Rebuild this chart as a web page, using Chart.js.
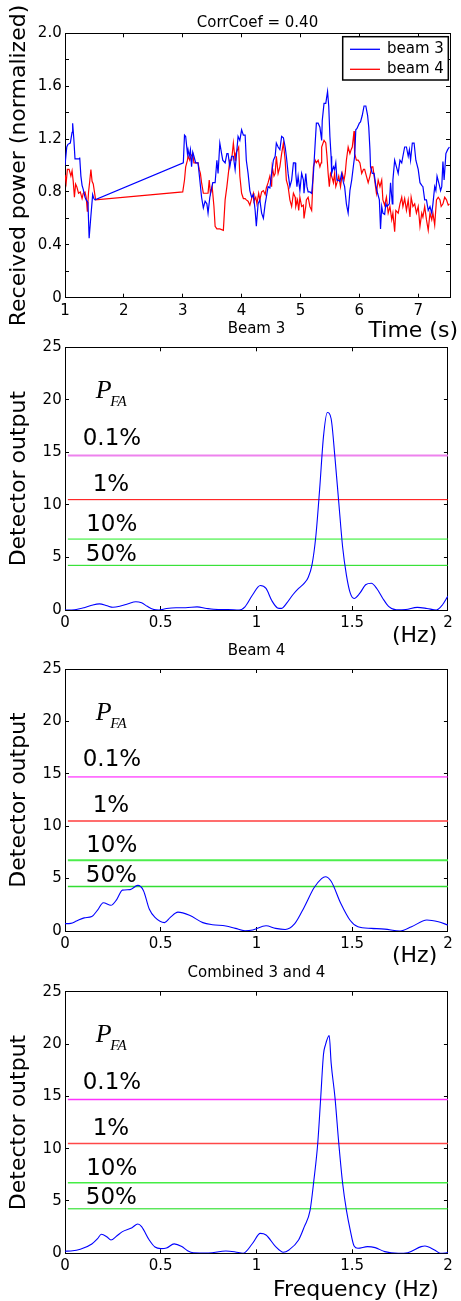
<!DOCTYPE html>
<html><head><meta charset="utf-8">
<script src="https://cdn.jsdelivr.net/npm/chart.js@4.4.0/dist/chart.umd.min.js"></script>
<style>
html,body{margin:0;padding:0;background:#fff;}
body{width:461px;height:1301px;position:relative;overflow:hidden;}
canvas{position:absolute;left:0;}
</style></head><body>
<canvas id="c1" width="461" height="340" style="top:0px;width:461px;height:340px"></canvas>
<canvas id="c2" width="461" height="326" style="top:320px;width:461px;height:326px"></canvas>
<canvas id="c3" width="461" height="324" style="top:642px;width:461px;height:324px"></canvas>
<canvas id="c4" width="461" height="337" style="top:964px;width:461px;height:337px"></canvas>
<script>
// ---------------- DATA ----------------
const beam3Time = [1.00,1.03,1.05,1.09,1.12,1.13,1.15,1.17,1.21,1.24,1.25,1.27,1.29,1.31,1.34,1.36,1.39,1.41,1.44,1.47,1.49,1.51,
3.01,3.03,3.05,3.08,3.09,3.11,3.13,3.15,3.17,3.19,3.22,3.26,3.29,3.32,3.35,3.38,3.41,3.43,3.46,3.51,
3.55,3.58,3.60,3.63,3.66,3.68,3.72,3.75,3.77,3.80,3.83,3.86,3.89,3.92,3.94,3.97,4.00,4.03,4.06,4.08,
4.11,4.14,4.17,4.20,4.23,4.25,4.28,4.31,4.34,4.37,4.40,4.42,4.45,4.48,4.51,4.54,4.57,4.59,4.62,4.65,
4.68,4.71,4.74,4.76,4.79,4.82,4.85,4.88,4.91,4.92,4.94,4.96,4.99,5.02,5.05,5.06,5.09,5.11,5.13,5.16,
5.19,5.22,5.25,5.27,5.30,5.33,5.36,5.37,5.40,5.43,5.46,5.48,5.50,5.52,5.53,5.56,5.58,5.60,5.62,5.64,
5.67,5.70,5.73,5.75,5.78,5.81,5.84,5.87,5.90,5.92,5.94,5.96,6.00,6.02,6.05,6.08,6.11,6.14,6.16,6.18,
6.19,6.22,6.25,6.28,6.31,6.34,6.36,6.38,6.40,6.43,6.45,6.47,6.51,6.53,6.56,6.57,6.60,6.63,6.66,6.69,
6.72,6.74,6.77,6.80,6.83,6.85,6.87,6.90,6.93,6.96,7.00,7.03,7.06,7.08,7.11,7.14,7.17,7.20,7.23,7.25,
7.28,7.30,7.32,7.36,7.38,7.40,7.42,7.44,7.47,7.50,7.53];
const beam3Power = [1.00,1.14,1.16,1.17,1.25,1.32,1.20,1.05,1.05,1.05,1.06,0.92,0.85,0.82,0.76,0.74,0.72,0.45,0.62,0.78,0.75,0.74,
1.02,1.23,1.22,1.09,1.12,1.07,1.12,0.99,1.10,1.07,1.02,1.02,0.89,0.76,0.68,0.73,0.71,0.64,0.76,0.87,
0.87,1.04,0.94,1.17,1.09,1.04,1.02,1.09,1.09,0.99,1.07,1.07,0.97,1.12,1.22,1.19,1.27,1.23,1.23,1.04,
0.94,0.81,0.76,0.78,0.66,0.54,0.71,0.74,0.64,0.60,0.71,0.76,0.84,0.83,0.94,1.04,1.07,1.17,1.14,1.12,
1.22,1.21,1.14,1.07,0.94,0.84,0.89,1.02,1.02,0.94,0.84,0.92,0.81,0.94,0.89,0.79,0.94,0.84,0.80,0.80,
0.79,0.94,1.17,1.32,1.32,1.29,1.19,1.34,1.47,1.47,1.56,1.45,1.22,1.07,0.94,0.99,0.97,1.02,0.89,0.89,
0.88,0.94,0.87,0.84,0.71,0.64,0.81,0.89,1.00,1.07,1.27,1.28,1.32,1.33,1.38,1.45,1.45,1.38,1.29,1.12,
0.99,0.94,0.94,0.85,0.79,0.74,0.52,0.69,0.64,0.63,0.71,0.69,0.71,0.87,0.71,0.89,1.04,0.99,0.94,1.04,
1.02,1.07,1.14,1.14,1.07,1.12,1.04,1.17,1.17,1.04,0.97,0.87,0.85,0.84,0.74,0.74,0.66,0.69,0.64,0.71,
0.84,0.81,0.92,0.85,0.81,0.84,1.03,0.89,1.09,1.12,1.14];

const beam4Time = [1.00,1.02,1.04,1.07,1.10,1.12,1.14,1.16,1.18,1.20,1.23,1.26,1.29,1.31,1.34,1.36,1.38,1.40,1.42,1.44,1.46,1.48,1.50,1.52,
3.00,3.03,3.05,3.08,3.09,3.12,3.14,3.17,3.19,3.21,3.26,3.28,3.30,3.32,3.35,3.38,3.41,3.43,3.45,3.47,
3.50,3.53,3.55,3.58,3.63,3.69,3.72,3.75,3.77,3.80,3.83,3.86,3.89,3.90,3.93,3.95,3.97,4.00,4.03,4.06,
4.08,4.11,4.14,4.17,4.20,4.21,4.24,4.26,4.29,4.31,4.34,4.37,4.40,4.42,4.45,4.48,4.51,4.52,4.55,4.57,
4.59,4.62,4.65,4.68,4.71,4.74,4.76,4.79,4.82,4.85,4.88,4.91,4.92,4.95,4.97,4.99,5.02,5.05,5.06,5.09,
5.10,5.13,5.16,5.19,5.20,5.22,5.25,5.27,5.30,5.33,5.35,5.36,5.40,5.43,5.45,5.47,5.49,5.51,5.53,5.56,
5.58,5.60,5.62,5.65,5.68,5.71,5.74,5.76,5.78,5.81,5.84,5.86,5.88,5.91,5.92,5.95,5.98,6.01,6.04,6.07,
6.09,6.12,6.15,6.18,6.21,6.23,6.26,6.29,6.32,6.35,6.38,6.40,6.43,6.46,6.49,6.52,6.55,6.57,6.60,6.62,
6.66,6.69,6.72,6.74,6.77,6.80,6.83,6.86,6.88,6.91,6.94,6.97,7.00,7.03,7.06,7.08,7.11,7.14,7.17,7.20,
7.23,7.25,7.28,7.31,7.34,7.37,7.39,7.42,7.45,7.48,7.51,7.53];
const beam4Power = [0.93,0.87,0.97,0.97,0.92,0.96,0.88,0.76,0.86,0.84,0.79,0.80,0.75,0.79,0.80,0.76,0.65,0.80,0.88,0.97,0.88,0.86,0.80,0.74,
0.80,0.89,0.99,1.04,1.07,1.04,1.07,1.09,1.02,1.02,1.02,0.97,0.94,0.87,0.79,0.79,0.79,0.79,0.89,0.79,
0.84,0.69,0.54,0.52,0.52,0.51,0.74,0.84,0.92,1.04,1.04,1.17,1.04,1.09,1.12,1.14,0.92,0.79,0.75,0.75,
0.74,0.73,0.70,0.75,0.79,0.73,0.76,0.71,0.79,0.74,0.80,0.81,0.78,0.83,0.87,0.92,0.84,0.99,0.92,0.94,
1.07,0.94,0.99,1.09,1.17,1.04,0.89,0.84,0.74,0.69,0.79,0.76,0.69,0.74,0.66,0.76,0.69,0.70,0.60,0.69,
0.74,0.76,0.69,0.66,0.76,0.99,1.04,1.02,1.04,0.99,1.02,1.14,1.19,1.17,1.07,0.94,0.84,0.94,0.92,0.87,
0.94,0.84,0.87,0.92,0.84,0.94,0.89,0.94,1.04,1.14,1.09,1.12,1.14,1.26,1.09,1.04,1.04,1.02,0.94,0.97,
0.97,0.92,0.87,0.92,0.99,0.99,0.89,0.79,0.89,0.84,0.89,0.74,0.70,0.76,0.64,0.69,0.59,0.64,0.50,0.66,
0.64,0.71,0.76,0.69,0.75,0.66,0.74,0.61,0.76,0.69,0.71,0.64,0.69,0.54,0.64,0.61,0.69,0.59,0.51,0.64,
0.59,0.64,0.55,0.74,0.76,0.74,0.69,0.71,0.76,0.74,0.70,0.71];

const freqBeam3 = [0.00,0.05,0.10,0.14,0.18,0.22,0.25,0.29,0.33,0.37,0.40,0.43,0.46,0.49,0.53,0.58,0.63,0.69,0.74,0.80,0.85,0.91,0.94,0.98,
1.02,1.05,1.08,1.11,1.13,1.16,1.19,1.22,1.25,1.27,1.29,1.31,1.33,1.35,1.37,1.39,1.41,1.43,1.45,1.47,1.49,1.51,1.54,1.57,1.60,1.63,1.66,1.69,
1.73,1.78,1.84,1.89,1.94,1.97,2.00];
const detBeam3 = [0.00,0.03,0.22,0.45,0.58,0.40,0.26,0.38,0.60,0.78,0.68,0.35,0.08,0.00,0.15,0.22,0.22,0.30,0.15,0.05,0.05,0.00,0.30,1.45,
2.33,2.05,0.90,0.20,0.15,0.70,1.45,2.05,2.55,3.10,4.30,7.00,11.5,16.5,18.8,18.2,14.5,10.2,6.0,3.3,1.6,1.1,1.6,2.4,2.55,2.0,1.1,0.35,
0.02,0.05,0.25,0.15,0.00,0.45,1.33];

const freqBeam4 = [0.00,0.03,0.06,0.10,0.14,0.17,0.20,0.24,0.27,0.30,0.34,0.38,0.41,0.44,0.47,0.52,0.55,0.59,0.65,0.72,0.77,0.84,0.89,0.94,0.98,
1.05,1.10,1.15,1.20,1.25,1.30,1.34,1.36,1.39,1.44,1.49,1.53,1.60,1.67,1.75,1.81,1.89,1.95,2.00];
const detBeam4 = [0.70,0.73,0.95,1.25,1.38,2.00,2.70,2.45,3.00,3.90,3.95,4.35,3.85,2.10,1.30,0.80,1.30,1.80,1.50,0.80,0.60,0.48,0.25,0.03,0.10,
0.50,0.25,0.15,0.70,2.30,4.10,5.00,5.18,4.75,2.65,1.00,0.40,0.25,0.18,0.00,0.40,1.05,0.88,0.57];

const freqCombined = [0.00,0.03,0.08,0.14,0.17,0.19,0.22,0.24,0.27,0.30,0.35,0.38,0.40,0.44,0.47,0.50,0.53,0.57,0.61,0.64,0.67,0.75,0.84,0.89,0.93,0.98,
1.02,1.05,1.10,1.14,1.17,1.22,1.25,1.28,1.30,1.32,1.335,1.35,1.36,1.38,1.39,1.41,1.43,1.45,1.47,1.49,1.51,1.53,1.58,1.62,1.67,1.74,1.79,1.86,1.88,1.93,1.96,2.00];
const detCombined = [0.20,0.22,0.38,0.89,1.40,1.82,1.55,1.27,1.65,2.07,2.45,2.80,2.55,1.27,0.60,0.45,0.50,0.90,0.65,0.25,0.05,0.03,0.22,0.13,0.00,0.96,
1.90,1.75,0.64,0.10,0.32,1.27,2.55,4.10,7.0,10.5,14.7,19.0,19.9,20.8,18.2,14.9,10.5,6.7,4.1,2.2,0.70,0.48,0.64,0.54,0.16,0.00,0.06,0.64,0.70,0.32,0.00,0.06];

const thresholdLevels = [14.7, 10.5, 6.75, 4.25];
const thresholdLabels = ['0.1%', '1%', '10%', '50%'];
const thresholdStart = 0.015;
const thresholdEnd = 2;

const timeTickValues = [1,2,3,4,5,6,7];
const powerTickValues = [0,0.2,0.4,0.6,0.8,1.0,1.2,1.4,1.6,1.8,2.0];
const powerTickLabels = ['0','','0.4','','0.8','','1.2','','1.6','','2.0'];
const freqTickValues = [0,0.5,1,1.5,2];
const freqTickLabels = ['0','0.5','1','1.5','2'];
const detTickValues = [0,5,10,15,20,25];
const detTickLabels = ['0','5','10','15','20','25'];

// ---------------- HELPERS ----------------
Chart.defaults.font.family = '"DejaVu Sans", sans-serif';
Chart.defaults.color = '#000';

const tickFont = {family:'"DejaVu Sans", sans-serif', size:15, lineHeight:1.2};
const bigFont = {family:'"DejaVu Sans", sans-serif', size:22, lineHeight:1.2};

function gridOpts(){ return {drawOnChartArea:false, drawTicks:true, tickLength:-4, color:'#000', tickColor:'#000', lineWidth:1, tickWidth:1}; }
function borderOpts(){ return {display:true, color:'#000', width:1}; }

function makeScales(o){
  const setTicks = vals => s => { s.ticks = vals.map(v => ({value:v})); };
  return {
    x: {type:'linear', position:'bottom', min:o.xMin, max:o.xMax,
        afterBuildTicks:setTicks(o.xTicks),
        ticks:{font:tickFont, color:'#000', padding:8.3, maxRotation:0, autoSkip:false, includeBounds:false,
               callback:(v,i)=>o.xLabels[i]},
        grid:gridOpts(), border:borderOpts(),
        afterFit:s=>{s.height=o.xHeight;}},
    y: {type:'linear', position:'left', min:o.yMin, max:o.yMax,
        afterBuildTicks:setTicks(o.yTicks),
        ticks:{font:tickFont, color:'#000', padding:7.3, autoSkip:false, includeBounds:false,
               callback:(v,i)=>o.yLabels[i]},
        grid:gridOpts(), border:borderOpts(),
        title:{display:true, text:o.yTitle, font:bigFont, color:'#000', padding:{top:6.2, bottom:0}},
        afterFit:s=>{s.width=65;}},
    x2:{type:'linear', position:'top', min:o.xMin, max:o.xMax,
        afterBuildTicks:setTicks(o.xTicks),
        ticks:{display:false, includeBounds:false}, grid:gridOpts(), border:borderOpts(),
        afterFit:s=>{s.height=0;}},
    y2:{type:'linear', position:'right', min:o.yMin, max:o.yMax,
        afterBuildTicks:setTicks(o.yTicks),
        ticks:{display:false, includeBounds:false}, grid:gridOpts(), border:borderOpts(),
        afterFit:s=>{s.width=0;}}
  };
}

function pts(xs, ys){ return xs.map((x,i)=>({x:x, y:ys[i]})); }

const textPlugin = {
  id:'textAnnotations',
  afterDraw(chart, args, opts){
    const ctx = chart.ctx, ca = chart.chartArea;
    const xs = chart.scales.x, ys = chart.scales.y;
    (opts.items||[]).forEach(it=>{
      ctx.save();
      ctx.font = it.font;
      ctx.fillStyle = '#000';
      ctx.textAlign = it.align || 'left';
      ctx.textBaseline = it.baseline || 'alphabetic';
      let px, py;
      if (it.data){ px = xs.getPixelForValue(it.x); py = ys.getPixelForValue(it.y); }
      else { px = (it.fromRight ? ca.right : ca.left) + it.dx; py = (it.fromBottom ? ca.bottom : ca.top) + it.dy; }
      ctx.fillText(it.text, px, py);
      if (it.sub){
        const w = ctx.measureText(it.text).width;
        ctx.font = it.subFont;
        ctx.fillText(it.sub, px + w - 1.5, py + 8);
      }
      ctx.restore();
    });
  }
};

const legendPlugin = {
  id:'boxLegend',
  afterDraw(chart, args, opts){
    if (!opts.show) return;
    const ctx = chart.ctx, ca = chart.chartArea;
    const w = 105.6, h = 43.3;
    const x0 = ca.right - 1.7 - w, y0 = ca.top + 3.4;
    ctx.save();
    ctx.fillStyle = '#fff';
    ctx.fillRect(x0, y0, w, h);
    ctx.strokeStyle = '#000';
    ctx.lineWidth = 1.5;
    ctx.strokeRect(x0, y0, w, h);
    chart.data.datasets.forEach((ds, i)=>{
      const yy = y0 + 12.6 + i*20;
      ctx.strokeStyle = ds.borderColor;
      ctx.lineWidth = 1.3;
      ctx.beginPath(); ctx.moveTo(x0+7.3, yy); ctx.lineTo(x0+37.3, yy); ctx.stroke();
      ctx.fillStyle = '#000';
      ctx.font = '15px "DejaVu Sans"';
      ctx.textAlign = 'left';
      ctx.textBaseline = 'middle';
      ctx.fillText(ds.label, x0+44.3, yy);
    });
    ctx.restore();
  }
};

// ---------------- PANEL 1 ----------------
new Chart(document.getElementById('c1'), {
  type:'line',
  data:{datasets:[
    {label:'beam 3', data:pts(beam3Time, beam3Power), borderColor:'#0000ff', borderWidth:1.2, pointRadius:0, tension:0, fill:false},
    {label:'beam 4', data:pts(beam4Time, beam4Power), borderColor:'#ff0000', borderWidth:1.2, pointRadius:0, tension:0, fill:false}
  ]},
  options:{
    responsive:false, animation:false, devicePixelRatio:1,
    layout:{padding:{left:0, right:11, top:0, bottom:0}},
    scales:makeScales({xMin:1, xMax:7.54, yMin:0, yMax:2, xTicks:timeTickValues, xLabels:timeTickValues.map(String),
      yTicks:powerTickValues, yLabels:powerTickLabels, yTitle:'Received power (normalized)', xHeight:42.3}),
    plugins:{
      legend:{display:false}, tooltip:{enabled:false},
      title:{display:true, text:'CorrCoef = 0.40', fullSize:false, color:'#000',
        font:{family:'"DejaVu Sans", sans-serif', size:15, weight:'normal', lineHeight:1.2}, padding:{top:14.3, bottom:1}},
      boxLegend:{show:true},
      textAnnotations:{items:[
        {text:'Time (s)', font:'22px "DejaVu Sans"', align:'right', fromRight:true, dx:8, fromBottom:true, dy:39.3}
      ]}
    }
  },
  plugins:[textPlugin, legendPlugin]
});

// ---------------- SPECTRUM PANELS ----------------
function spectrum(id, title, freq, det, colors, widths, xHeight, titlePadBottom, xTitleItem){
  const datasets = [{label:title, data:pts(freq, det), borderColor:'#0000ff', borderWidth:1.1, pointRadius:0,
                     cubicInterpolationMode:'monotone', fill:false}];
  thresholdLevels.forEach((lv, i)=>{
    datasets.push({label:thresholdLabels[i], data:pts([thresholdStart, thresholdEnd],[lv, lv]),
      borderColor:colors[i], borderWidth:widths[i], pointRadius:0, tension:0, fill:false});
  });
  const items = [
    {text:'P', sub:'FA', font:'italic 26px "Liberation Serif"', subFont:'italic 15px "Liberation Serif"', data:true, x:0.161, y:20.17},
    {text:thresholdLabels[0], font:'23px "DejaVu Sans"', align:'center', baseline:'middle', data:true, x:0.245, y:16.27},
    {text:thresholdLabels[1], font:'23px "DejaVu Sans"', align:'center', baseline:'middle', data:true, x:0.240, y:11.9},
    {text:thresholdLabels[2], font:'23px "DejaVu Sans"', align:'center', baseline:'middle', data:true, x:0.244, y:8.1},
    {text:thresholdLabels[3], font:'23px "DejaVu Sans"', align:'center', baseline:'middle', data:true, x:0.242, y:5.25},
    xTitleItem
  ];
  new Chart(document.getElementById(id), {
    type:'line',
    data:{datasets},
    options:{
      responsive:false, animation:false, devicePixelRatio:1,
      layout:{padding:{left:0, right:10.3, top:0, bottom:0}},
      scales:makeScales({xMin:0, xMax:2, yMin:0, yMax:25, xTicks:freqTickValues, xLabels:freqTickLabels,
        yTicks:detTickValues, yLabels:detTickLabels, yTitle:'Detector output', xHeight:xHeight}),
      plugins:{
        legend:{display:false}, tooltip:{enabled:false},
        title:{display:true, text:title, fullSize:false, color:'#000',
          font:{family:'"DejaVu Sans", sans-serif', size:15, weight:'normal', lineHeight:1.2}, padding:{top:0, bottom:titlePadBottom}},
        textAnnotations:{items}
      }
    },
    plugins:[textPlugin]
  });
}

spectrum('c2', 'Beam 3', freqBeam3, detBeam3, ['#ee82ee','#ff0000','#22ee22','#11dd11'], [2,1,1,1], 36, 9.3,
  {text:'(Hz)', font:'22px "DejaVu Sans"', align:'right', fromRight:true, dx:-10.7, fromBottom:true, dy:31.7});
spectrum('c3', 'Beam 4', freqBeam4, detBeam4, ['#ff00ff','#ff3c3c','#4cee4c','#33dd33'], [1,1.5,2,1.5], 35, 9.0,
  {text:'(Hz)', font:'22px "DejaVu Sans"', align:'right', fromRight:true, dx:-10.7, fromBottom:true, dy:30.7});
spectrum('c4', 'Combined 3 and 4', freqCombined, detCombined, ['#ff33ff','#ff4848','#44ee44','#11dd11'], [1.5,1.5,1.5,1], 47.7, 9.7,
  {text:'Frequency (Hz)', font:'22px "DejaVu Sans"', align:'right', fromRight:true, dx:-9, fromBottom:true, dy:42.7});
</script>
</body></html>
